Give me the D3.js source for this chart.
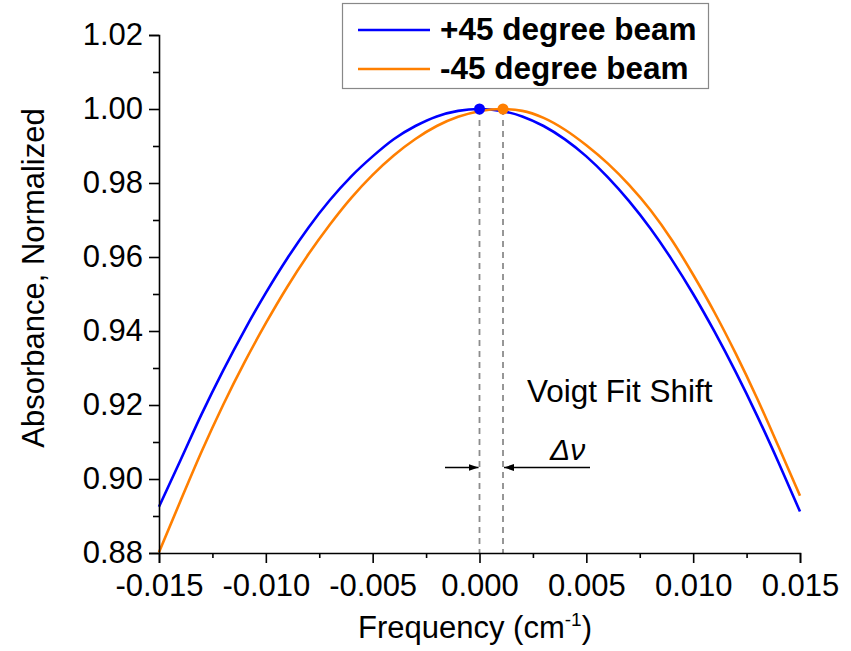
<!DOCTYPE html>
<html>
<head>
<meta charset="utf-8">
<script src="https://cdn.jsdelivr.net/npm/d3@7"></script>
<style>
  body { margin: 0; background: #fff; }
  svg text { font-family: "Liberation Sans", Arial, sans-serif; }
</style>
</head>
<body>
<div id="root"></div>
<script>
// frequency samples (cm^-1)
const freq = [-0.015, -0.014, -0.013, -0.012, -0.011, -0.010, -0.009, -0.008, -0.007, -0.006,
  -0.005, -0.004, -0.003, -0.002, -0.001, 0.000, 0.001, 0.002, 0.003, 0.004, 0.005, 0.006,
  0.007, 0.008, 0.009, 0.010, 0.011, 0.012, 0.013, 0.014, 0.015];
// +45 degree beam
const plus45 = [0.8925, 0.9050, 0.9176, 0.9293, 0.9402, 0.9503, 0.9596, 0.9680, 0.9754, 0.9818,
  0.9872, 0.9919, 0.9954, 0.9980, 0.9995, 1.0000, 0.9995, 0.9980, 0.9954, 0.9918, 0.9872, 0.9816,
  0.9751, 0.9677, 0.9593, 0.9500, 0.9398, 0.9288, 0.9170, 0.9044, 0.8912];
// -45 degree beam
const minus45 = [0.8802, 0.8940, 0.9075, 0.9200, 0.9315, 0.9421, 0.9519, 0.9608, 0.9688, 0.9760,
  0.9822, 0.9875, 0.9919, 0.9954, 0.9979, 0.9994, 1.0000, 0.9995, 0.9976, 0.9944, 0.9902, 0.9853,
  0.9795, 0.9727, 0.9646, 0.9552, 0.9450, 0.9338, 0.9217, 0.9087, 0.8955];
const peaks = [{x: 0.0000, y: 1.0, c: "#0000ff"}, {x: 0.0011, y: 1.0, c: "#ff7f00"}];
const xTicks = [-0.015, -0.010, -0.005, 0.000, 0.005, 0.010, 0.015];
const xMinor = [-0.0125, -0.0075, -0.0025, 0.0025, 0.0075, 0.0125];
const yTicks = [0.88, 0.90, 0.92, 0.94, 0.96, 0.98, 1.00, 1.02];
const yMinor = [0.89, 0.91, 0.93, 0.95, 0.97, 0.99, 1.01];

const svg = d3.select("#root")
  .append("svg")
  .attr("width", 851)
  .attr("height", 651);

const margin = {top: 35, left: 159};
const width = 641;
const height = 518;

const x = d3.scaleLinear().domain([-0.015, 0.015]).range([0, width]);
const y = d3.scaleLinear().domain([0.88, 1.02]).range([height, 0]);

const g = svg.append("g")
  .attr("transform", "translate(" + margin.left + "," + margin.top + ")");

// dashed guides at the two fitted peaks
g.selectAll(".guide")
  .data(peaks)
  .enter().append("line")
    .attr("x1", d => x(d.x)).attr("x2", d => x(d.x))
    .attr("y1", d => y(d.y)).attr("y2", height)
    .attr("stroke", "#8c8c8c").attr("stroke-width", 1.8)
    .attr("stroke-dasharray", "6,5");

const line = d3.line()
  .x((d, i) => x(freq[i]))
  .y(d => y(d))
  .curve(d3.curveMonotoneX);

g.append("path").datum(plus45)
  .attr("fill", "none").attr("stroke", "#0000ff").attr("stroke-width", 2.6)
  .attr("d", line);
g.append("path").datum(minus45)
  .attr("fill", "none").attr("stroke", "#ff7f00").attr("stroke-width", 2.6)
  .attr("d", line);

g.selectAll(".peak")
  .data(peaks)
  .enter().append("circle")
    .attr("cx", d => x(d.x)).attr("cy", d => y(d.y))
    .attr("r", 5.5).attr("fill", d => d.c);

// hyphen instead of unicode minus, like the original
const fx = d => d3.format(".3f")(d).replace("\u2212", "-");

// axes
const xAxis = g.append("g")
  .attr("transform", "translate(0," + height + ")")
  .call(d3.axisBottom(x).tickValues(xTicks).tickFormat(fx).tickSize(10).tickPadding(8));
const xMin = xAxis.append("g").attr("class", "minor")
  .call(d3.axisBottom(x).tickValues(xMinor).tickFormat("").tickSize(5));

const yAxis = g.append("g")
  .call(d3.axisLeft(y).tickValues(yTicks).tickFormat(d3.format(".2f")).tickSize(10).tickPadding(6));
const yMin = yAxis.append("g").attr("class", "minor")
  .call(d3.axisLeft(y).tickValues(yMinor).tickFormat("").tickSize(6));

xMin.select(".domain").remove();
yMin.select(".domain").remove();

g.selectAll(".domain").attr("stroke", "#000").attr("stroke-width", 1.6);
g.selectAll(".tick line").attr("stroke", "#000").attr("stroke-width", 1.6);
g.selectAll(".tick text").attr("font-size", 31).attr("fill", "#000")
  .attr("font-family", "Liberation Sans, Arial, sans-serif");
xAxis.selectAll(".tick text").attr("dy", "0.82em");

// axis titles
const xt = svg.append("text")
  .attr("x", 475).attr("y", 638)
  .attr("text-anchor", "middle").attr("font-size", 31);
xt.append("tspan").text("Frequency (cm");
xt.append("tspan").attr("font-size", 19).attr("dy", -12).text("-1");
xt.append("tspan").attr("dy", 12).text(")");

svg.append("text")
  .attr("transform", "translate(44,278) rotate(-90)")
  .attr("text-anchor", "middle").attr("font-size", 31)
  .text("Absorbance, Normalized");

// annotation
svg.append("text")
  .attr("x", 527).attr("y", 402).attr("font-size", 31.5)
  .text("Voigt Fit Shift");

const defs = svg.append("defs");
defs.append("marker")
  .attr("id", "ah").attr("viewBox", "0 0 10 10")
  .attr("refX", 10).attr("refY", 5)
  .attr("markerWidth", 10).attr("markerHeight", 10)
  .attr("markerUnits", "userSpaceOnUse")
  .attr("orient", "auto")
  .append("path").attr("d", "M0,1.5 L10,5 L0,8.5 Z").attr("fill", "#000");

const ay = 467.5;
svg.append("line")
  .attr("x1", 445).attr("x2", margin.left + x(peaks[0].x) - 1)
  .attr("y1", ay).attr("y2", ay)
  .attr("stroke", "#000").attr("stroke-width", 1.3)
  .attr("marker-end", "url(#ah)");
svg.append("line")
  .attr("x1", 590).attr("x2", margin.left + x(peaks[1].x) + 1)
  .attr("y1", ay).attr("y2", ay)
  .attr("stroke", "#000").attr("stroke-width", 1.3)
  .attr("marker-end", "url(#ah)");
svg.append("text")
  .attr("x", 550).attr("y", 460)
  .attr("font-family", "Liberation Serif, Times New Roman, serif")
  .attr("font-style", "italic").attr("font-size", 30)
  .text("\u0394\u03bd");

// legend
const legend = svg.append("g");
legend.append("rect")
  .attr("x", 342.5).attr("y", 3.5).attr("width", 366).attr("height", 85)
  .attr("fill", "#fff").attr("stroke", "#888").attr("stroke-width", 1.2);
const items = [{name: "+45 degree beam", c: "#0000ff"}, {name: "-45 degree beam", c: "#ff7f00"}];
items.forEach((d, i) => {
  const ly = 30 + i * 39;
  legend.append("line")
    .attr("x1", 358).attr("x2", 430).attr("y1", ly).attr("y2", ly)
    .attr("stroke", d.c).attr("stroke-width", 2.6);
  legend.append("text")
    .attr("x", 440).attr("y", ly + 10)
    .attr("font-size", 31.5).attr("font-weight", "bold")
    .text(d.name);
});
</script>
</body>
</html>
